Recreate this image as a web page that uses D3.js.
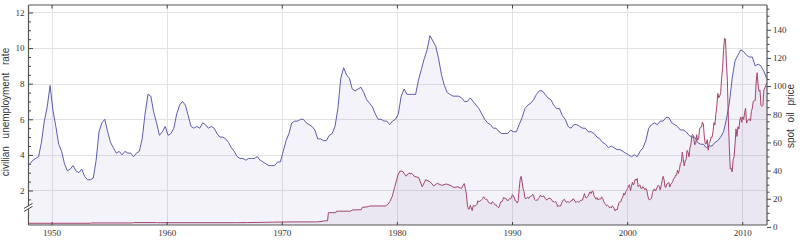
<!DOCTYPE html>
<html>
<head>
<meta charset="utf-8">
<script src="https://cdn.jsdelivr.net/npm/d3@7"></script>
<style>
  body { margin: 0; background: #fff; }
  svg { display: block; }
  .tick text { font-family: "Liberation Serif", "DejaVu Serif", serif; font-size: 9px; fill: #333; }
  .title { font-family: "Liberation Sans", "DejaVu Sans", sans-serif; font-size: 10px; fill: #333; }
</style>
</head>
<body>
<div id="chart"></div>
<script>
// Unemployment rate, quarterly, starting 1948 Q1 (one row per year).
var unempStart = 1948;
var unempRates = [
  3.5, 3.7, 3.8, 3.9,   // 1948
  4.7, 5.9, 6.7, 7.9,   // 1949
  6.5, 5.6, 4.6, 4.2,
  3.5, 3.1, 3.2, 3.4,
  3.1, 3.0, 3.2, 2.8,
  2.6, 2.6, 2.7, 3.7,
  5.3, 5.8, 6.0, 5.3,   // 1954
  4.7, 4.4, 4.1, 4.2,
  4.0, 4.2, 4.1, 4.1,
  3.9, 4.1, 4.2, 4.9,
  6.3, 7.4, 7.3, 6.4,
  5.8, 5.1, 5.3, 5.6,   // 1959
  5.1, 5.2, 5.5, 6.3,
  6.8, 7.0, 6.8, 6.2,
  5.6, 5.5, 5.6, 5.5,
  5.8, 5.7, 5.5, 5.6,
  5.5, 5.2, 5.0, 5.0,   // 1964
  4.9, 4.7, 4.4, 4.2,
  3.9, 3.8, 3.8, 3.7,
  3.8, 3.8, 3.8, 3.9,
  3.7, 3.6, 3.5, 3.4,
  3.4, 3.4, 3.6, 3.6,   // 1969
  4.2, 4.8, 5.2, 5.8,
  5.9, 5.9, 6.0, 6.0,
  5.8, 5.7, 5.6, 5.4,
  4.9, 4.9, 4.8, 4.8,
  5.1, 5.2, 5.6, 6.6,   // 1974
  8.3, 8.9, 8.5, 8.3,
  7.7, 7.6, 7.7, 7.8,
  7.5, 7.1, 6.9, 6.7,
  6.3, 6.0, 6.0, 5.9,
  5.9, 5.7, 5.9, 6.0,   // 1979
  6.3, 7.3, 7.7, 7.4,
  7.4, 7.4, 7.4, 8.2,
  8.8, 9.4, 9.9, 10.7,
  10.4, 10.1, 9.4, 8.5,
  7.9, 7.5, 7.4, 7.3,   // 1984
  7.3, 7.3, 7.2, 7.0,
  7.0, 7.2, 7.0, 6.8,
  6.6, 6.3, 6.0, 5.8,
  5.7, 5.5, 5.5, 5.3,
  5.2, 5.2, 5.2, 5.4,   // 1989
  5.3, 5.3, 5.7, 6.1,
  6.6, 6.8, 6.9, 7.1,
  7.4, 7.6, 7.6, 7.4,
  7.2, 7.1, 6.8, 6.6,
  6.6, 6.2, 6.0, 5.6,   // 1994
  5.5, 5.7, 5.7, 5.6,
  5.5, 5.5, 5.3, 5.3,
  5.2, 5.0, 4.9, 4.7,
  4.6, 4.4, 4.5, 4.4,
  4.3, 4.3, 4.2, 4.1,   // 1999
  4.0, 3.9, 4.0, 3.9,
  4.2, 4.4, 4.8, 5.5,
  5.7, 5.8, 5.7, 5.9,
  5.9, 6.1, 6.1, 5.8,
  5.7, 5.6, 5.4, 5.4,   // 2004
  5.3, 5.1, 5.0, 5.0,
  4.7, 4.6, 4.6, 4.4,
  4.5, 4.5, 4.7, 4.8,
  5.0, 5.3, 6.0, 6.9,
  8.3, 9.3, 9.6, 9.9,   // 2009
  9.8, 9.6, 9.5, 9.5,
  9.0, 9.1, 9.0, 8.7,
  8.3                   // 2012 Q1
];

// Spot oil price before 1986 (step changes), decimal year / dollars.
var oilEarlyYears = [1948.0, 1953.4, 1953.5, 1957.0, 1957.1, 1959.1, 1959.2, 1966.0, 1967.0,
  1969.2, 1970.9, 1973.0, 1973.5, 1973.7, 1973.98, 1974.05, 1974.7, 1974.75, 1976.0, 1976.1,
  1976.9, 1977.0, 1977.5, 1977.6, 1979.0, 1979.2, 1979.4, 1979.6, 1979.8, 1979.95, 1980.1,
  1980.25, 1980.5, 1980.8, 1981.0, 1981.3, 1981.5, 1981.9, 1982.2, 1982.5, 1982.9, 1983.2,
  1983.5, 1983.9, 1984.3, 1984.7, 1984.95, 1985.3, 1985.6, 1985.85, 1985.95];
var oilEarlyPrices = [2.57, 2.57, 2.82, 2.82, 3.07, 3.07, 2.97, 2.97, 3.07,
  3.35, 3.56, 3.56, 3.87, 4.31, 4.31, 10.11, 10.11, 11.16, 11.16, 12.03,
  12.2, 13.9, 14.3, 14.85, 14.85, 15.85, 18.1, 21.8, 28.0, 32.5, 37.0,
  39.5, 39.5, 36.0, 38.0, 38.0, 36.0, 35.0, 28.5, 33.5, 32.0, 29.0,
  31.0, 29.5, 30.5, 29.3, 28.0, 28.5, 27.3, 30.8, 27.2];

// Spot oil price, monthly from January 1986.
var oilMonthlyStart = 1986;
var oilMonthly = [
  22.9, 15.4, 12.6, 12.8, 15.4, 13.5, 11.6, 15.1, 14.9, 14.9, 15.2, 16.1,   // 1986
  18.6, 17.8, 18.3, 18.7, 19.4, 20.3, 21.4, 20.3, 19.5, 19.8, 18.9, 17.3,
  17.1, 16.7, 16.2, 17.9, 17.4, 16.5, 15.5, 15.5, 14.5, 13.8, 14.0, 16.3,
  18.0, 17.8, 19.4, 21.0, 20.0, 20.0, 19.6, 18.4, 19.5, 20.1, 19.8, 21.1,
  22.9, 22.1, 20.4, 18.4, 18.2, 16.9, 18.6, 27.2, 33.7, 35.9, 32.3, 27.3,   // 1990
  25.2, 20.5, 19.9, 20.8, 21.2, 20.2, 21.4, 21.7, 21.9, 23.2, 22.5, 19.5,
  18.8, 19.0, 18.9, 20.2, 20.9, 22.4, 21.8, 21.4, 21.9, 21.7, 20.3, 19.4,
  19.1, 20.1, 20.3, 20.3, 19.9, 19.1, 17.9, 18.0, 17.5, 18.1, 16.7, 14.5,
  15.0, 14.8, 14.7, 16.4, 17.9, 19.1, 19.7, 18.4, 17.5, 17.7, 18.1, 17.2,
  18.0, 18.5, 18.6, 19.9, 19.7, 18.4, 17.3, 18.0, 18.2, 17.4, 18.0, 19.0,   // 1995
  18.9, 19.1, 21.4, 23.6, 21.2, 20.4, 21.3, 22.0, 24.0, 24.9, 23.7, 25.4,
  25.2, 22.2, 21.0, 19.7, 20.8, 19.2, 19.6, 19.9, 19.8, 21.3, 20.2, 18.3,
  16.7, 16.1, 15.0, 15.4, 14.9, 13.7, 14.2, 13.5, 15.0, 14.4, 12.9, 11.3,
  12.5, 12.0, 14.7, 17.3, 17.8, 17.9, 20.1, 21.3, 23.9, 22.6, 25.0, 26.1,
  27.2, 29.4, 29.9, 25.7, 28.8, 31.8, 29.7, 31.3, 33.9, 33.1, 34.4, 28.5,   // 2000
  29.6, 29.6, 27.2, 27.4, 28.6, 27.6, 26.4, 27.4, 26.2, 22.2, 19.6, 19.3,
  19.7, 20.7, 24.4, 26.3, 27.0, 25.5, 26.9, 28.4, 29.7, 28.9, 26.3, 29.4,
  32.9, 35.9, 33.5, 28.3, 28.1, 30.7, 30.8, 31.6, 28.3, 30.3, 31.1, 32.1,
  34.3, 34.7, 36.7, 36.7, 40.3, 38.0, 40.7, 44.9, 45.9, 53.1, 48.5, 43.3,
  46.8, 48.0, 54.3, 53.0, 49.8, 56.3, 58.7, 65.0, 65.6, 62.3, 58.3, 59.4,   // 2005
  65.5, 61.6, 62.7, 69.4, 70.8, 70.9, 74.4, 73.0, 63.8, 58.9, 59.1, 62.0,
  54.5, 59.3, 60.4, 63.9, 63.5, 67.5, 74.1, 72.4, 79.9, 85.8, 94.8, 91.7,
  93.0, 95.4, 105.5, 112.6, 125.4, 133.9, 133.4, 116.7, 104.1, 76.6, 57.3, 41.1,
  41.7, 39.1, 47.9, 49.7, 59.0, 69.6, 64.2, 71.1, 69.5, 75.8, 78.1, 74.3,
  78.2, 76.4, 81.2, 84.3, 73.7, 75.3, 76.3, 76.6, 75.2, 81.9, 84.3, 89.2,   // 2010
  89.6, 89.7, 102.9, 109.5, 100.9, 96.3, 97.3, 86.3, 85.6, 86.4, 97.2, 98.6,
  100.3, 102.2
];

// Tick values
var yearTicks = [1950, 1960, 1970, 1980, 1990, 2000, 2010];
var unempTicks = [2, 4, 6, 8, 10, 12];
var oilTicks = [0, 20, 40, 60, 80, 100, 120, 140];

var w = 800, h = 241;
var plotLeft = 28.5, plotRight = 767, plotTop = 5, plotBottom = 225;

var unempData = unempRates.map(function (v, i) {
  return { t: unempStart + i * 0.25 + 0.125, v: v };
});
var oilData = oilEarlyYears.map(function (t, i) {
  return { t: t, v: oilEarlyPrices[i] };
}).concat(oilMonthly.map(function (v, i) {
  return { t: oilMonthlyStart + i / 12 + 1 / 24, v: v };
}));

var x = d3.scaleLinear().domain([1948, 2012.15]).range([plotLeft, plotRight]);
var yU = d3.scaleLinear().domain([0, 12.42]).range([226.1, plotTop]);
var yO = d3.scaleLinear().domain([0, 157.6]).range([226.9, plotTop]);

var svg = d3.select("#chart").append("svg")
    .attr("width", w)
    .attr("height", h);

// grid
var grid = svg.append("g").attr("stroke", "#e2e2e2").attr("stroke-width", 1);
grid.selectAll("line.v").data(yearTicks).enter().append("line")
    .attr("x1", function (d) { return Math.round(x(d)) + 0.5; })
    .attr("x2", function (d) { return Math.round(x(d)) + 0.5; })
    .attr("y1", plotTop).attr("y2", plotBottom);
grid.selectAll("line.h").data(unempTicks).enter().append("line")
    .attr("y1", function (d) { return Math.round(yU(d)) + 0.5; })
    .attr("y2", function (d) { return Math.round(yU(d)) + 0.5; })
    .attr("x1", plotLeft).attr("x2", plotRight);

// filled areas
var areaU = d3.area().x(function (d) { return x(d.t); }).y0(plotBottom).y1(function (d) { return yU(d.v); });
var areaO = d3.area().x(function (d) { return x(d.t); }).y0(plotBottom).y1(function (d) { return yO(d.v); });
var lineU = d3.line().x(function (d) { return x(d.t); }).y(function (d) { return yU(d.v); });
var lineO = d3.line().x(function (d) { return x(d.t); }).y(function (d) { return yO(d.v); });

svg.append("path").datum(unempData).attr("d", areaU)
    .attr("fill", "#5a5aaa").attr("fill-opacity", 0.07);
svg.append("path").datum(oilData).attr("d", areaO)
    .attr("fill", "#7a5a96").attr("fill-opacity", 0.07);

svg.append("path").datum(unempData).attr("d", lineU)
    .attr("fill", "none").attr("stroke", "#5c5cae").attr("stroke-width", 1);
svg.append("path").datum(oilData).attr("d", lineO)
    .attr("fill", "none").attr("stroke", "#a3466f").attr("stroke-width", 1);

// frame
var frame = svg.append("g").attr("stroke", "#555").attr("stroke-width", 1.2).attr("fill", "none");
frame.append("line").attr("x1", plotLeft).attr("x2", plotRight).attr("y1", plotTop).attr("y2", plotTop);
frame.append("line").attr("x1", plotLeft).attr("x2", plotRight).attr("y1", plotBottom).attr("y2", plotBottom);
frame.append("line").attr("x1", plotLeft).attr("x2", plotLeft).attr("y1", plotTop).attr("y2", plotBottom);
frame.append("line").attr("x1", plotRight).attr("x2", plotRight).attr("y1", plotTop).attr("y2", plotBottom);

// axes
function styleAxis(g) {
  g.select(".domain").remove();
  g.selectAll(".tick line").attr("stroke", "#444");
}

var minorU = d3.range(1.5, 12.5, 0.5).filter(function (d) { return d % 2 !== 0; });
svg.append("g").attr("transform", "translate(" + plotLeft + ",0)")
    .call(d3.axisLeft(yU).tickValues(minorU).tickSize(-2.5).tickFormat(""))
    .call(styleAxis);
svg.append("g").attr("transform", "translate(" + plotLeft + ",0)")
    .call(d3.axisLeft(yU).tickValues(unempTicks).tickSize(-4.5).tickPadding(4))
    .call(styleAxis);

var minorO = d3.range(5, 160, 5).filter(function (d) { return d % 20 !== 0; });
svg.append("g").attr("transform", "translate(" + plotRight + ",0)")
    .call(d3.axisRight(yO).tickValues(minorO).tickSize(2.5).tickFormat(""))
    .call(styleAxis);
svg.append("g").attr("transform", "translate(" + plotRight + ",0)")
    .call(d3.axisRight(yO).tickValues(oilTicks).tickSize(4).tickPadding(2))
    .call(styleAxis);

svg.append("g").attr("transform", "translate(0," + plotBottom + ")")
    .call(d3.axisBottom(x).tickValues(yearTicks).tickSize(-3).tickPadding(5).tickFormat(d3.format("d")))
    .call(styleAxis);
svg.append("g").attr("transform", "translate(0," + plotTop + ")")
    .call(d3.axisTop(x).tickValues(yearTicks).tickSize(-3.5).tickFormat(""))
    .call(styleAxis);

// axis break mark on the left axis
var by = yU(1.05);
svg.append("path")
    .attr("d", "M" + (plotLeft - 4) + "," + (by + 1) + "L" + (plotLeft + 4) + "," + (by - 4) +
               "L" + (plotLeft + 4) + "," + (by - 1) + "L" + (plotLeft - 4) + "," + (by + 4) + "Z")
    .attr("fill", "#fff");
svg.append("g").attr("stroke", "#444").attr("stroke-width", 1)
  .selectAll("line").data([0, 3]).enter().append("line")
    .attr("x1", plotLeft - 4.5).attr("x2", plotLeft + 4)
    .attr("y1", function (d) { return by + 1 + d; })
    .attr("y2", function (d) { return by - 4 + d; });

// titles
svg.append("text").attr("class", "title")
    .attr("transform", "translate(9," + 112 + ") rotate(-90)")
    .attr("text-anchor", "middle")
    .attr("word-spacing", "5px")
    .text("civilian unemployment rate");
svg.append("text").attr("class", "title")
    .attr("transform", "translate(794," + 116 + ") rotate(-90)")
    .attr("text-anchor", "middle")
    .attr("word-spacing", "4px")
    .text("spot oil price");
</script>
</body>
</html>
